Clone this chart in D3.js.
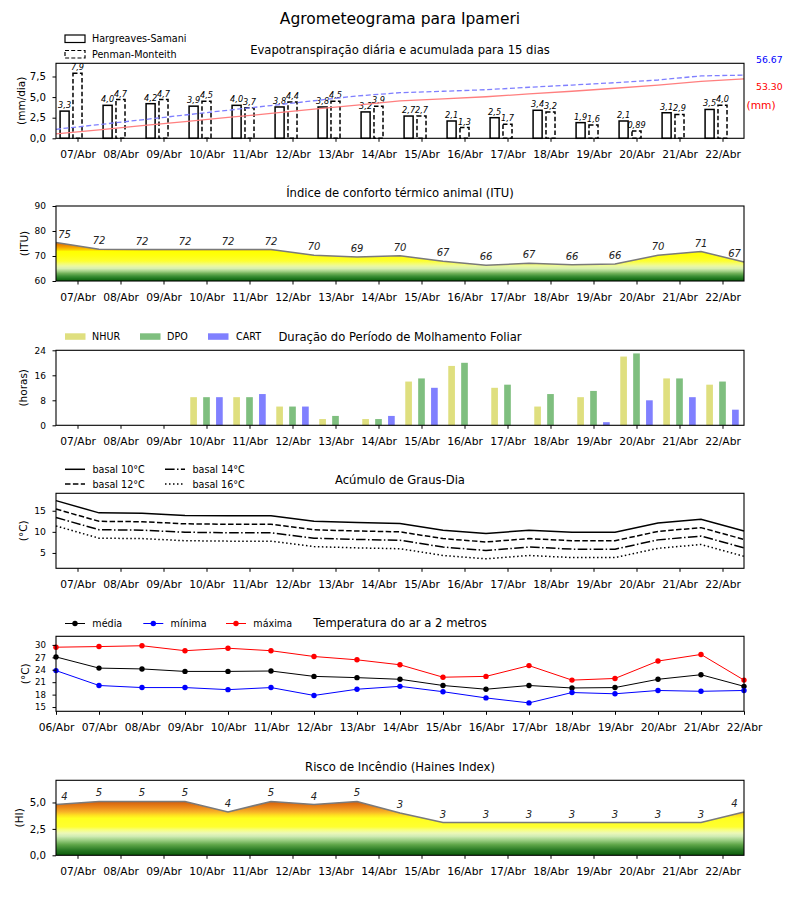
<!DOCTYPE html>
<html>
<head>
<meta charset="utf-8">
<script src="https://cdn.jsdelivr.net/npm/d3@7"></script>
<style>
  body { margin: 0; background: #fff; }
  text { font-family: "DejaVu Sans", sans-serif; }
</style>
</head>
<body>
<div id="chart"></div>
<script>
// ---- dados ----
const dias = ["07/Abr", "08/Abr", "09/Abr", "10/Abr", "11/Abr", "12/Abr", "13/Abr", "14/Abr",
              "15/Abr", "16/Abr", "17/Abr", "18/Abr", "19/Abr", "20/Abr", "21/Abr", "22/Abr"];
const diasTemp = ["06/Abr", "07/Abr", "08/Abr", "09/Abr", "10/Abr", "11/Abr", "12/Abr", "13/Abr", "14/Abr",
                  "15/Abr", "16/Abr", "17/Abr", "18/Abr", "19/Abr", "20/Abr", "21/Abr", "22/Abr"];

// evapotranspiração diária (mm/dia)
const etHargreaves = [3.3, 4.0, 4.2, 3.9, 4.0, 3.8, 3.8, 3.2, 2.7, 2.1, 2.5, 3.4, 1.9, 2.1, 3.1, 3.5];
const etPenman     = [7.9, 4.7, 4.7, 4.5, 3.7, 4.4, 4.5, 3.9, 2.7, 1.3, 1.7, 3.2, 1.6, 0.89, 2.9, 4.0];
const acHargreaves = [3.9, 7.5, 11.3, 15.0, 18.7, 22.3, 26.1, 29.8, 33.5, 35.3, 37.3, 39.8, 42.2, 44.9, 47.8, 51.0, 53.30];
const acPenman     = [8.1, 12.3, 16.6, 20.9, 25.2, 29.4, 33.7, 38.0, 40.9, 42.2, 43.6, 45.8, 47.8, 49.9, 52.3, 56.0, 56.67];

// ITU
const itu       = [75.4, 72.7, 72.6, 72.6, 72.6, 72.6, 70.3, 69.6, 70.1, 67.9, 66.3, 67.1, 66.5, 66.8, 70.3, 71.8, 67.6];
const ituLabels = [75, 72, 72, 72, 72, 72, 70, 69, 70, 67, 66, 67, 66, 66, 70, 71, 67];

// molhamento foliar (horas)
const nhur = [0, 0, 0, 9, 9, 6, 2, 2, 14, 19, 12, 6, 9, 22, 15, 13];
const dpo  = [0, 0, 0, 9, 9, 6, 3, 2, 15, 20, 13, 10, 11, 23, 15, 14];
const cart = [0, 0, 0, 9, 10, 6, 0, 3, 12, 0, 0, 0, 1, 8, 9, 5];

// graus-dia
const gd10 = [17.4, 14.5, 14.4, 13.9, 13.8, 13.8, 12.5, 12.2, 12.0, 10.4, 9.6, 10.4, 9.9, 9.9, 12.1, 13.0, 10.2];
const gd12 = [15.4, 12.5, 12.4, 11.9, 11.8, 11.8, 10.5, 10.2, 10.0, 8.4, 7.6, 8.4, 7.9, 7.9, 10.1, 11.0, 8.2];
const gd14 = [13.4, 10.5, 10.4, 9.9, 9.8, 9.8, 8.5, 8.2, 8.0, 6.4, 5.6, 6.4, 5.9, 5.9, 8.1, 9.0, 6.2];
const gd16 = [11.4, 8.5, 8.4, 7.9, 7.8, 7.8, 6.5, 6.2, 6.0, 4.4, 3.6, 4.4, 3.9, 3.9, 6.1, 7.0, 4.2];

// temperatura (°C)
const tMedia  = [27.1, 24.4, 24.2, 23.6, 23.6, 23.7, 22.4, 22.1, 21.7, 20.2, 19.3, 20.2, 19.6, 19.7, 21.7, 22.8, 20.0];
const tMinima = [23.8, 20.2, 19.7, 19.7, 19.2, 19.7, 17.8, 19.3, 20.0, 18.7, 17.2, 16.0, 18.5, 18.2, 19.0, 18.8, 19.0];
const tMaxima = [29.45, 29.6, 29.8, 28.6, 29.2, 28.6, 27.2, 26.4, 25.2, 22.2, 22.4, 25.0, 21.5, 21.9, 26.1, 27.7, 21.5];

// Haines
const haines       = [4.8, 5.1, 5.1, 5.1, 4.1, 5.1, 4.8, 5.1, 4.0, 3.1, 3.1, 3.1, 3.1, 3.1, 3.1, 3.1, 4.1];
const hainesLabels = [4, 5, 5, 5, 4, 5, 4, 5, 3, 3, 3, 3, 3, 3, 3, 3, 4];

// ---- layout ----
const FONT = "DejaVu Sans";
const L = 56, R = 744, H = 75;
const tops = [63.3, 206, 350.3, 493.3, 636.3, 780.3];

const svg = d3.select("#chart").append("svg")
    .attr("width", 800)
    .attr("height", 900);
const defs = svg.append("defs");

const x = d3.scaleLinear().domain([-0.5, 15.5]).range([L, R]);
const xTemp = d3.scaleLinear().domain([0, 16]).range([L, R]);
const comma = f => v => d3.format(f)(v).replace(".", ",");

svg.append("text")
    .attr("x", 400).attr("y", 23.5)
    .attr("text-anchor", "middle")
    .style("font-size", "15.5px")
    .text("Agrometeograma para Ipameri");

function addTitle(top, title) {
    svg.append("text")
        .attr("x", (L + R) / 2).attr("y", top - 9)
        .attr("text-anchor", "middle")
        .style("font-size", "11.6px")
        .text(title);
}

function addFrame(top) {
    svg.append("rect")
        .attr("x", L).attr("y", top)
        .attr("width", R - L).attr("height", H)
        .attr("fill", "none").attr("stroke", "#000").attr("stroke-width", 1.1);
}

function addXAxis(top, scale, vals, labels) {
    svg.append("g")
        .attr("transform", "translate(0," + (top + H) + ")")
        .call(d3.axisBottom(scale).tickValues(vals).tickFormat((d, i) => labels[i]).tickSize(3.5).tickPadding(8.9))
        .call(g => g.select(".domain").remove())
        .attr("font-family", FONT).attr("font-size", 10.7);
}

function addYAxis(y, ticks, fmt, fs, label, labelX) {
    svg.append("g")
        .attr("transform", "translate(" + L + ",0)")
        .call(d3.axisLeft(y).tickValues(ticks).tickFormat(fmt).tickSize(3.5).tickPadding(6.5))
        .call(g => g.select(".domain").remove())
        .attr("font-family", FONT).attr("font-size", fs);
    let cy = (y.range()[0] + y.range()[1]) / 2;
    svg.append("text")
        .attr("transform", "translate(" + labelX + "," + cy + ") rotate(-90)")
        .attr("text-anchor", "middle")
        .attr("dominant-baseline", "central")
        .style("font-size", "10.5px")
        .text(label);
}

function addGradient(id, y, stops) {
    let lo = stops[0][0], hi = stops[stops.length - 1][0];
    let grad = defs.append("linearGradient")
        .attr("id", id)
        .attr("gradientUnits", "userSpaceOnUse")
        .attr("x1", 0).attr("x2", 0)
        .attr("y1", y(lo)).attr("y2", y(hi));
    stops.forEach(s => {
        grad.append("stop")
            .attr("offset", (s[0] - lo) / (hi - lo))
            .attr("stop-color", s[1]);
    });
}

function addIndexArea(top, y, values, labels, gradId) {
    let pts = values.map((v, i) => [x(i - 0.5), y(v)]);
    svg.append("path")
        .datum(values)
        .attr("fill", "url(#" + gradId + ")")
        .attr("d", d3.area()
            .x((d, i) => x(i - 0.5))
            .y0(top + H)
            .y1(d => y(d)));
    svg.append("path")
        .datum(values)
        .attr("fill", "none")
        .attr("stroke", "#7a7a7a")
        .attr("stroke-width", 1.5)
        .attr("d", d3.line().x((d, i) => x(i - 0.5)).y(d => y(d)));
    svg.selectAll(null)
        .data(labels)
        .enter().append("text")
        .attr("x", (d, i) => x(i - 0.5) + (i === 0 ? 8.5 : i === labels.length - 1 ? -9.5 : 0))
        .attr("y", (d, i) => pts[i][1] - 5)
        .attr("text-anchor", "middle")
        .style("font-size", "10px")
        .style("font-style", "italic")
        .attr("fill", "#222")
        .text(d => d);
}

// ---- 1. Evapotranspiração ----
(function () {
    let top = tops[0];
    let y = d3.scaleLinear().domain([0, 9.1]).range([top + H, top]);
    let yAc = d3.scaleLinear().domain([0, 67.3]).range([top + H, top]);
    let bw = x(0.21) - x(0);
    let fmt = v => d3.format(".2r")(v).replace(".", ",");

    addTitle(top, "Evapotranspiração diária e acumulada para 15 dias");

    svg.selectAll(".bar-hs").data(etHargreaves).enter().append("rect")
        .attr("x", (d, i) => x(i - 0.3) - bw / 2)
        .attr("y", d => y(d))
        .attr("width", bw)
        .attr("height", d => y(0) - y(d))
        .attr("fill", "#fff").attr("stroke", "#000").attr("stroke-width", 1.5);
    svg.selectAll(".bar-pm").data(etPenman).enter().append("rect")
        .attr("x", (d, i) => x(i) - bw / 2)
        .attr("y", d => y(d))
        .attr("width", bw)
        .attr("height", d => y(0) - y(d))
        .attr("fill", "#fff").attr("stroke", "#000").attr("stroke-width", 1.5)
        .attr("stroke-dasharray", "4.5,2.4");

    [[etHargreaves, -0.3], [etPenman, 0]].forEach(s => {
        svg.selectAll(null).data(s[0]).enter().append("text")
            .attr("x", (d, i) => x(i + s[1]))
            .attr("y", d => y(d) - 3)
            .attr("text-anchor", "middle")
            .style("font-size", "8.2px")
            .style("font-style", "italic")
            .text(d => fmt(d));
    });

    svg.append("path").datum(acHargreaves)
        .attr("fill", "none").attr("stroke", "#ff7f7f").attr("stroke-width", 1.3)
        .attr("d", d3.line().x((d, i) => x(i - 0.5)).y(d => yAc(d)));
    svg.append("path").datum(acPenman)
        .attr("fill", "none").attr("stroke", "#7f7fff").attr("stroke-width", 1.3)
        .attr("stroke-dasharray", "5,2.6")
        .attr("d", d3.line().x((d, i) => x(i - 0.5)).y(d => yAc(d)));

    svg.append("text").attr("x", 756).attr("y", 59.5).attr("dominant-baseline", "central")
        .style("font-size", "9.3px").attr("fill", "#0000ff")
        .text(acPenman[acPenman.length - 1].toFixed(2));
    svg.append("text").attr("x", 756).attr("y", 86.5).attr("dominant-baseline", "central")
        .style("font-size", "9.3px").attr("fill", "#ff0000")
        .text(acHargreaves[acHargreaves.length - 1].toFixed(2));
    svg.append("text").attr("x", 746.5).attr("y", 105).attr("dominant-baseline", "central")
        .style("font-size", "10.7px").attr("fill", "#ff0000")
        .text("(mm)");

    // legenda
    svg.append("rect").attr("x", 65).attr("y", 35).attr("width", 20).attr("height", 7.5)
        .attr("fill", "#fff").attr("stroke", "#000").attr("stroke-width", 1.2);
    svg.append("rect").attr("x", 65).attr("y", 50.5).attr("width", 20).attr("height", 7.5)
        .attr("fill", "#fff").attr("stroke", "#000").attr("stroke-width", 1.2)
        .attr("stroke-dasharray", "4,2.2");
    svg.append("text").attr("x", 92).attr("y", 38.8).attr("dominant-baseline", "central")
        .style("font-size", "9.6px").text("Hargreaves-Samani");
    svg.append("text").attr("x", 92).attr("y", 54.3).attr("dominant-baseline", "central")
        .style("font-size", "9.6px").text("Penman-Monteith");

    addXAxis(top, x, d3.range(16), dias);
    addYAxis(y, [0, 2.5, 5, 7.5], comma(".1f"), 10.2, "(mm/dia)", 20.5);
    addFrame(top);
})();

// ---- 2. ITU ----
(function () {
    let top = tops[1];
    let y = d3.scaleLinear().domain([60, 90]).range([top + H, top]);
    addTitle(top, "Índice de conforto térmico animal (ITU)");
    addGradient("gradITU", y, [
        [60, "#0a5e0a"], [61, "#1f781f"], [62, "#3f9238"], [63, "#6fb058"], [64, "#a8d48c"],
        [65, "#d8efb0"], [66, "#ecf9a0"], [67, "#f6fd6a"], [68, "#fdff30"], [70, "#ffff10"],
        [71.8, "#ffff00"], [72.5, "#fcd000"], [73.5, "#f4a400"], [74.5, "#e88200"], [75.5, "#dc6400"]
    ]);
    addIndexArea(top, y, itu, ituLabels, "gradITU");
    addXAxis(top, x, d3.range(16), dias);
    addYAxis(y, [60, 70, 80, 90], d3.format("d"), 9, "(ITU)", 24);
    addFrame(top);
})();

// ---- 3. Molhamento foliar ----
(function () {
    let top = tops[2];
    let y = d3.scaleLinear().domain([0, 24]).range([top + H, top]);
    let bw = x(0.155) - x(0);
    let series = [
        { name: "NHUR", data: nhur, color: "#dfdf7f", off: -0.3, lx: 65, tx: 92 },
        { name: "DPO", data: dpo, color: "#7fbf7f", off: 0, lx: 140, tx: 167 },
        { name: "CART", data: cart, color: "#8080ff", off: 0.3, lx: 208, tx: 236 }
    ];
    addTitle(top, "Duração do Período de Molhamento Foliar");
    series.forEach(s => {
        svg.selectAll(null).data(s.data).enter().append("rect")
            .attr("x", (d, i) => x(i + s.off) - bw / 2)
            .attr("y", d => y(d))
            .attr("width", bw)
            .attr("height", d => y(0) - y(d))
            .attr("fill", s.color);
        svg.append("rect").attr("x", s.lx).attr("y", 333.3).attr("width", 20.5).attr("height", 6.5)
            .attr("fill", s.color);
        svg.append("text").attr("x", s.tx).attr("y", 336.5).attr("dominant-baseline", "central")
            .style("font-size", "9.6px").text(s.name);
    });
    addXAxis(top, x, d3.range(16), dias);
    addYAxis(y, [0, 8, 16, 24], d3.format("d"), 9, "(horas)", 23);
    addFrame(top);
})();

// ---- 4. Graus-dia ----
(function () {
    let top = tops[3];
    let y = d3.scaleLinear().domain([1.36, 19.14]).range([top + H, top]);
    let series = [
        { name: "basal 10°C", data: gd10, dash: null, lx: 65, ly: 469.3 },
        { name: "basal 12°C", data: gd12, dash: "5.5,2.4", lx: 65, ly: 484 },
        { name: "basal 14°C", data: gd14, dash: "9.6,2.4,1.5,2.4", lx: 165, ly: 469.3 },
        { name: "basal 16°C", data: gd16, dash: "1.5,2.5", lx: 165, ly: 484 }
    ];
    addTitle(top, "Acúmulo de Graus-Dia");
    series.forEach(s => {
        svg.append("path").datum(s.data)
            .attr("fill", "none").attr("stroke", "#000").attr("stroke-width", 1.5)
            .attr("stroke-dasharray", s.dash)
            .attr("d", d3.line().x((d, i) => x(i - 0.5)).y(d => y(d)));
        svg.append("line").attr("x1", s.lx).attr("x2", s.lx + 20).attr("y1", s.ly).attr("y2", s.ly)
            .attr("stroke", "#000").attr("stroke-width", 1.5).attr("stroke-dasharray", s.dash);
        svg.append("text").attr("x", s.lx + 27.5).attr("y", s.ly).attr("dominant-baseline", "central")
            .style("font-size", "9.6px").text(s.name);
    });
    addXAxis(top, x, d3.range(16), dias);
    addYAxis(y, [5, 10, 15], d3.format("d"), 9.3, "(°C)", 23);
    addFrame(top);
})();

// ---- 5. Temperatura ----
(function () {
    let top = tops[4];
    let y = d3.scaleLinear().domain([13.97, 32.08]).range([top + H, top]);
    let series = [
        { name: "média", data: tMedia, color: "#000000", lx: 65 },
        { name: "mínima", data: tMinima, color: "#0000ff", lx: 143.3 },
        { name: "máxima", data: tMaxima, color: "#ff0000", lx: 226 }
    ];
    addTitle(top, "Temperatura do ar a 2 metros");
    series.forEach(s => {
        svg.append("path").datum(s.data)
            .attr("fill", "none").attr("stroke", s.color).attr("stroke-width", 1)
            .attr("d", d3.line().x((d, i) => xTemp(i)).y(d => y(d)));
        svg.selectAll(null).data(s.data).enter().append("circle")
            .attr("cx", (d, i) => xTemp(i)).attr("cy", d => y(d)).attr("r", 2.7)
            .attr("fill", s.color);
        svg.append("line").attr("x1", s.lx).attr("x2", s.lx + 20).attr("y1", 623.5).attr("y2", 623.5)
            .attr("stroke", s.color).attr("stroke-width", 1);
        svg.append("circle").attr("cx", s.lx + 10).attr("cy", 623.5).attr("r", 2.7).attr("fill", s.color);
        svg.append("text").attr("x", s.lx + 27.3).attr("y", 623.5).attr("dominant-baseline", "central")
            .style("font-size", "9.6px").text(s.name);
    });
    addXAxis(top, xTemp, d3.range(17), diasTemp);
    addYAxis(y, [15, 18, 21, 24, 27, 30], d3.format("d"), 8.6, "(°C)", 25);
    addFrame(top);
})();

// ---- 6. Haines ----
(function () {
    let top = tops[5];
    let y = d3.scaleLinear().domain([0, 7.1]).range([top + H, top]);
    addTitle(top, "Risco de Incêndio (Haines Index)");
    addGradient("gradHI", y, [
        [0, "#0a5a0a"], [0.5, "#2a7a25"], [1.0, "#5ea548"], [1.4, "#98cc80"], [1.8, "#d0ecb4"],
        [2.1, "#ecf8b8"], [2.4, "#f6ff80"], [2.7, "#ffff30"], [3.5, "#ffff20"], [3.8, "#ffe020"],
        [4.1, "#f8b428"], [4.5, "#ec8c1c"], [4.9, "#dc6c10"], [5.2, "#c85810"]
    ]);
    addIndexArea(top, y, haines, hainesLabels, "gradHI");
    addXAxis(top, x, d3.range(16), dias);
    addYAxis(y, [0, 2.5, 5], comma(".1f"), 10.2, "(HI)", 19);
    addFrame(top);
})();
</script>
</body>
</html>
